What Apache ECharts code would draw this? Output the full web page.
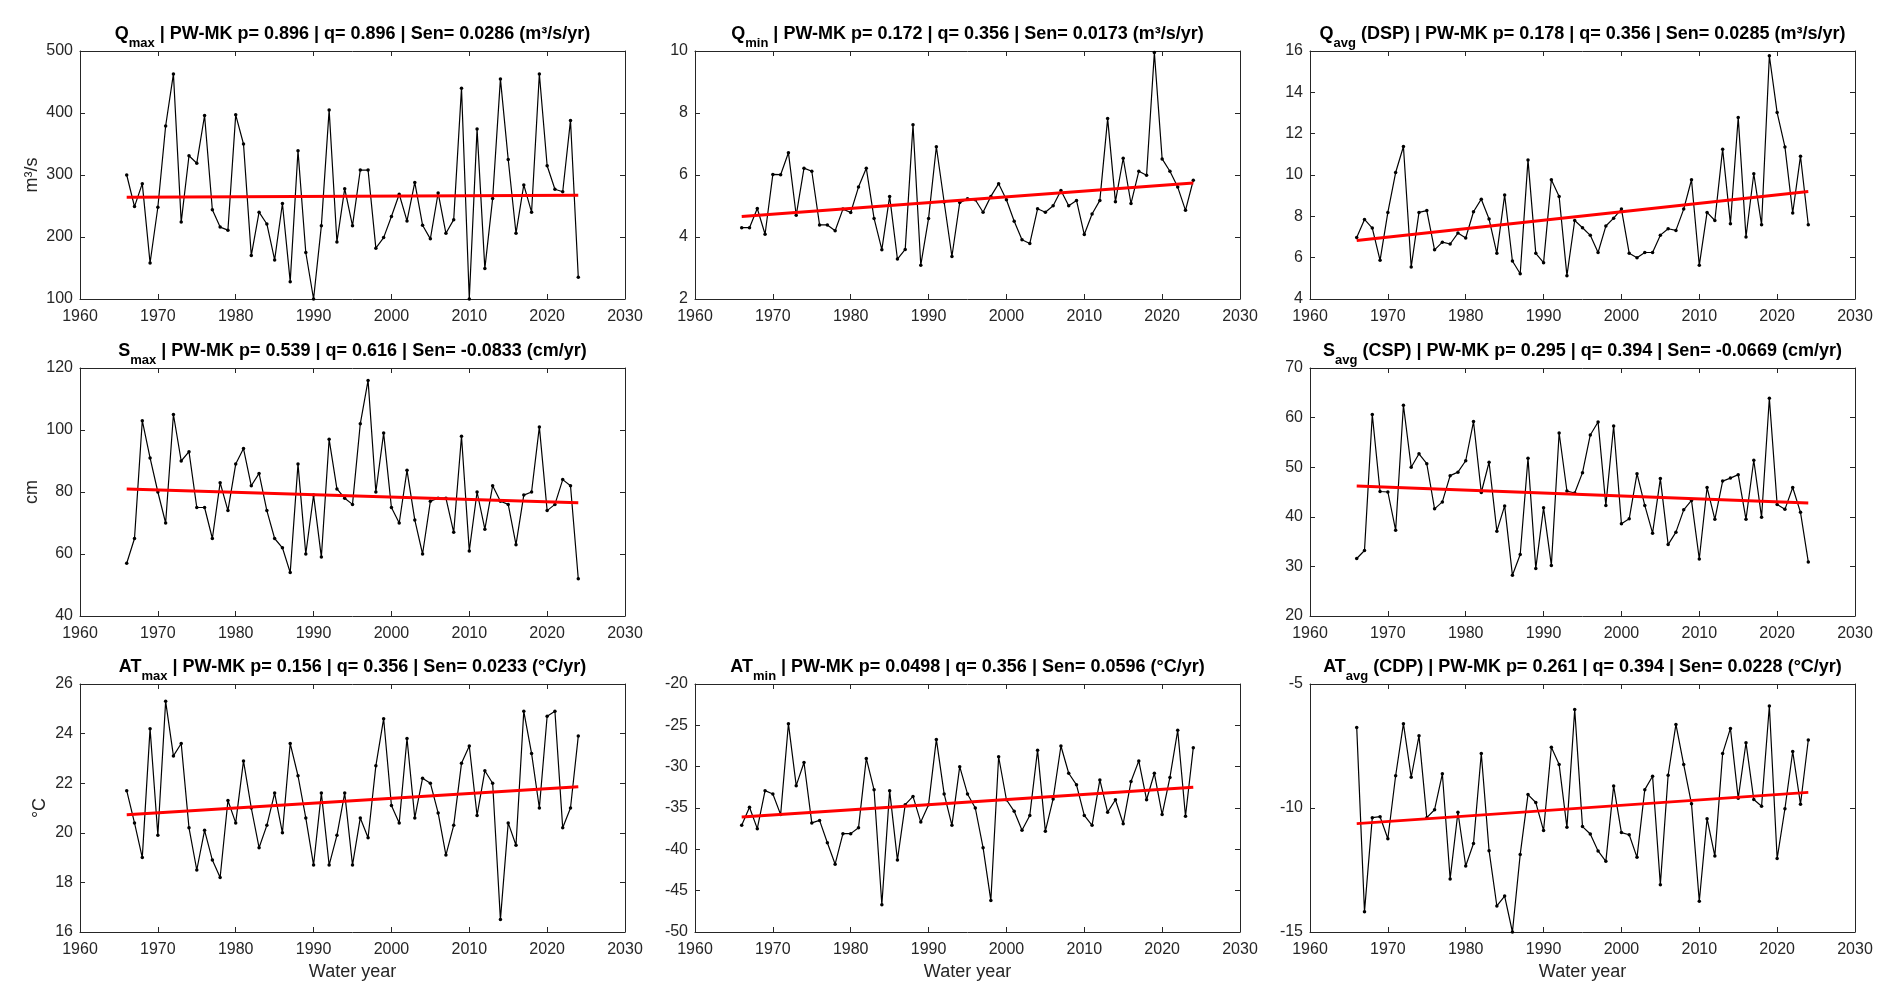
<!DOCTYPE html>
<html><head><meta charset="utf-8">
<script src="https://cdn.jsdelivr.net/npm/echarts@6/dist/echarts.min.js"></script>
<style>html,body{margin:0;padding:0;background:#fff}#c{width:1892px;height:1002px}</style>
</head><body><div id="c"></div>
<script>
// ---------- DATA ----------
const years = [1966,1967,1968,1969,1970,1971,1972,1973,1974,1975,
  1976,1977,1978,1979,1980,1981,1982,1983,1984,1985,
  1986,1987,1988,1989,1990,1991,1992,1993,1994,1995,
  1996,1997,1998,1999,2000,2001,2002,2003,2004,2005,
  2006,2007,2008,2009,2010,2011,2012,2013,2014,2015,
  2016,2017,2018,2019,2020,2021,2022,2023,2024];

const qmax = [300,249,286,158,248,379,463,224,331,319,
  396,244,216,211,397,350,170,240,221,163,
  254,128,339,175,100,218,405,192,278,218,
  308,308,182,199,233,269,226,288,219,197,
  271,206,228,440,100,374,149,262,455,325,
  206,284,240,463,315,277,273,388,135];
const qmin = [4.30,4.30,4.92,4.09,6.02,6.01,6.72,4.70,6.22,6.12,
  4.39,4.39,4.20,4.90,4.79,5.61,6.22,4.60,3.59,5.31,
  3.29,3.60,7.62,3.09,4.60,6.91,5.13,3.37,5.11,5.23,
  5.20,4.80,5.31,5.72,5.20,4.51,3.91,3.79,4.91,4.80,
  5.01,5.50,5.01,5.18,4.08,4.74,5.18,7.82,5.14,6.54,
  5.08,6.12,5.99,9.95,6.52,6.12,5.61,4.86,5.83];
const qavg = [6.98,7.85,7.43,5.87,8.19,10.12,11.38,5.55,8.19,8.28,
  6.38,6.75,6.66,7.19,6.95,8.22,8.83,7.87,6.21,9.03,
  5.84,5.22,10.73,6.21,5.76,9.77,8.96,5.13,7.80,7.45,
  7.08,6.25,7.53,7.91,8.35,6.21,6.00,6.25,6.25,7.09,
  7.40,7.32,8.35,9.77,5.63,8.19,7.80,11.25,7.64,12.78,
  7.00,10.06,7.59,15.77,13.02,11.36,8.16,10.91,7.59];
const smax = [57,65,103,91,80,70,105,90,93,75,
  75,65,83,74,89,94,82,86,74,65,
  62,54,89,60,79,59,97,81,78,76,
  102,116,80,99,75,70,87,71,60,77,
  78,78,67,98,61,80,68,82,77,76,
  63,79,80,101,74,76,84,82,52];
const savg = [31.6,33.2,60.6,45.1,45.0,37.3,62.5,50.0,52.7,50.7,
  41.6,43.0,48.3,49.0,51.3,59.2,44.9,51.0,37.1,42.2,
  28.2,32.4,51.8,29.6,41.8,30.2,56.9,45.2,44.8,48.9,
  56.5,59.1,42.3,58.3,38.6,39.6,48.7,42.3,36.7,47.7,
  34.4,36.9,41.4,43.3,31.5,45.9,39.5,47.2,47.8,48.5,
  39.5,51.4,39.9,63.9,42.5,41.5,45.9,40.9,30.9];
const atmax = [21.7,20.4,19.0,24.2,19.9,25.3,23.1,23.6,20.2,18.5,
  20.1,18.9,18.2,21.3,20.4,22.9,21.0,19.4,20.3,21.6,
  20.0,23.6,22.3,20.6,18.7,21.6,18.7,19.9,21.6,18.7,
  20.6,19.8,22.7,24.6,21.1,20.4,23.8,20.6,22.2,22.0,
  20.8,19.1,20.3,22.8,23.5,20.7,22.5,22.0,16.5,20.4,
  19.5,24.9,23.2,21.0,24.7,24.9,20.2,21.0,23.9];
const atmin = [-37.1,-34.9,-37.5,-32.9,-33.3,-35.8,-24.8,-32.3,-29.5,-36.8,
  -36.5,-39.2,-41.8,-38.1,-38.1,-37.4,-29.0,-32.8,-46.7,-32.9,
  -41.3,-34.6,-33.6,-36.7,-34.6,-26.7,-33.3,-37.1,-30.0,-33.3,
  -35.0,-39.8,-46.2,-28.8,-34.0,-35.4,-37.7,-35.9,-28.0,-37.8,
  -33.9,-27.5,-30.8,-32.2,-35.9,-37.1,-31.6,-35.5,-34.0,-36.9,
  -31.8,-29.3,-34.0,-30.8,-35.8,-31.3,-25.6,-36.0,-27.7];
const atavg = [-6.75,-14.18,-10.39,-10.35,-11.24,-8.70,-6.60,-8.76,-7.09,-10.39,
  -10.07,-8.62,-12.86,-10.17,-12.34,-11.43,-7.80,-11.72,-13.95,-13.55,
  -15.0,-11.87,-9.46,-9.78,-10.91,-7.55,-8.25,-10.78,-6.03,-10.75,
  -11.05,-11.73,-12.15,-9.11,-10.99,-11.08,-11.99,-9.26,-8.72,-13.09,
  -8.68,-6.63,-8.25,-9.83,-13.76,-10.43,-11.94,-7.80,-6.79,-9.61,
  -7.37,-9.66,-9.93,-5.89,-12.04,-10.03,-7.72,-9.85,-7.26];

// Sen trend line values at first and last year
const trendYears = [1966, 2024];
const qmaxTrend = [264, 267.5];
const qminTrend = [4.66, 5.74];
const qavgTrend = [6.83, 9.20];
const smaxTrend = [81.0, 76.5];
const savgTrend = [46.2, 42.8];
const atmaxTrend = [20.73, 21.86];
const atminTrend = [-36.1, -32.5];
const atavgTrend = [-10.63, -9.37];

// titles
const titleVar = ['Q','Q','Q','S','S','AT','AT','AT'];
const titleSub = ['max','min','avg','max','avg','max','min','avg'];
const titleRest = [
  ' | PW-MK p= 0.896 | q= 0.896 | Sen= 0.0286 (m³/s/yr)',
  ' | PW-MK p= 0.172 | q= 0.356 | Sen= 0.0173 (m³/s/yr)',
  ' (DSP) | PW-MK p= 0.178 | q= 0.356 | Sen= 0.0285 (m³/s/yr)',
  ' | PW-MK p= 0.539 | q= 0.616 | Sen= -0.0833 (cm/yr)',
  ' (CSP) | PW-MK p= 0.295 | q= 0.394 | Sen= -0.0669 (cm/yr)',
  ' | PW-MK p= 0.156 | q= 0.356 | Sen= 0.0233 (°C/yr)',
  ' | PW-MK p= 0.0498 | q= 0.356 | Sen= 0.0596 (°C/yr)',
  ' (CDP) | PW-MK p= 0.261 | q= 0.394 | Sen= 0.0228 (°C/yr)'
];
const yNames = ['m³/s','','','cm','','°C','',''];
const xName = 'Water year';
const xTicks = [1960, 2030, 10];
const yTicks = [[100,500,100],[2,10,2],[4,16,2],[40,120,20],[20,70,10],[16,26,2],[-50,-20,5],[-15,-5,5]];

// ---------- LAYOUT ----------
const seriesVals = [qmax,qmin,qavg,smax,savg,atmax,atmin,atavg];
const trends = [qmaxTrend,qminTrend,qavgTrend,smaxTrend,savgTrend,atmaxTrend,atminTrend,atavgTrend];
const cells = [[0,0],[1,0],[2,0],[0,1],[2,1],[0,2],[1,2],[2,2]];
const colLeft = [80, 695, 1310];
const rowTop = [51, 368, 684];
const W = 545, H = 248;
const nameGaps = [39,0,0,39,0,31,0,0];
const AX = '#262626';
const FONT = "'Liberation Sans', Arial, Helvetica, sans-serif";
const plain = v => String(v);

const grid = [], xAxis = [], yAxis = [], series = [], title = [];
cells.forEach(([c, r], i) => {
  const left = colLeft[c], top = rowTop[r];
  grid.push({left: left, top: top, width: W, height: H, containLabel: false, outerBoundsMode: 'none', show: false});
  const tickStyle = {show: true, inside: true, length: 5, lineStyle: {color: AX, width: 1}};
  const lineStyle = {show: true, onZero: false, lineStyle: {color: AX, width: 1}};
  const isBottomRow = r === 2;
  xAxis.push({
    type: 'value', gridIndex: i, position: 'bottom', min: xTicks[0], max: xTicks[1], interval: xTicks[2],
    axisLine: lineStyle, axisTick: tickStyle, splitLine: {show: false},
    axisLabel: {show: true, color: AX, fontSize: 16, fontFamily: FONT, margin: 10, formatter: plain, hideOverlap: false, showMinLabel: true, showMaxLabel: true},
    name: isBottomRow ? xName : '', nameLocation: 'middle', nameGap: 31,
    nameTextStyle: {color: AX, fontSize: 18, fontFamily: FONT}
  });
  xAxis.push({
    type: 'value', gridIndex: i, position: 'top', min: xTicks[0], max: xTicks[1], interval: xTicks[2],
    axisLine: lineStyle, axisTick: tickStyle, splitLine: {show: false}, axisLabel: {show: false}
  });
  const yt = yTicks[i];
  yAxis.push({
    type: 'value', gridIndex: i, position: 'left', min: yt[0], max: yt[1], interval: yt[2],
    axisLine: lineStyle, axisTick: tickStyle, splitLine: {show: false},
    axisLabel: {show: true, color: AX, fontSize: 16, fontFamily: FONT, margin: 7, formatter: plain, hideOverlap: false, showMinLabel: true, showMaxLabel: true},
    name: yNames[i], nameLocation: 'middle', nameRotate: 90, nameGap: nameGaps[i],
    nameTextStyle: {color: AX, fontSize: 18, fontFamily: FONT}
  });
  yAxis.push({
    type: 'value', gridIndex: i, position: 'right', min: yt[0], max: yt[1], interval: yt[2],
    axisLine: lineStyle, axisTick: tickStyle, splitLine: {show: false}, axisLabel: {show: false}
  });
  series.push({
    type: 'line', xAxisIndex: 2 * i, yAxisIndex: 2 * i,
    data: years.map((y, k) => [y, seriesVals[i][k]]),
    symbol: 'circle', symbolSize: 3.5, showSymbol: true,
    itemStyle: {color: '#000'}, lineStyle: {color: '#000', width: 1.2},
    animation: false, clip: true, z: 2
  });
  series.push({
    type: 'line', xAxisIndex: 2 * i, yAxisIndex: 2 * i,
    data: trendYears.map((y, k) => [y, trends[i][k]]),
    symbol: 'none', lineStyle: {color: '#ff0000', width: 3},
    animation: false, z: 3
  });
  title.push({
    text: '{m|' + titleVar[i] + '}{s|' + titleSub[i] + '}{m|' + titleRest[i] + '}',
    left: left + W / 2, top: top - 17, textAlign: 'center', textVerticalAlign: 'middle', padding: 0,
    textStyle: {
      rich: {
        m: {fontSize: 18, fontWeight: 'bold', color: '#000', fontFamily: FONT, lineHeight: 22},
        s: {fontSize: 13, fontWeight: 'bold', color: '#000', fontFamily: FONT, lineHeight: 14, padding: [18, 0, 0, 0]}
      }
    }
  });
});

const chart = echarts.init(document.getElementById('c'), null, {renderer: 'canvas'});
chart.setOption({
  backgroundColor: '#fff', animation: false,
  title: title, grid: grid, xAxis: xAxis, yAxis: yAxis, series: series,
  tooltip: {show: false}, legend: {show: false}
});
</script>
</body></html>
